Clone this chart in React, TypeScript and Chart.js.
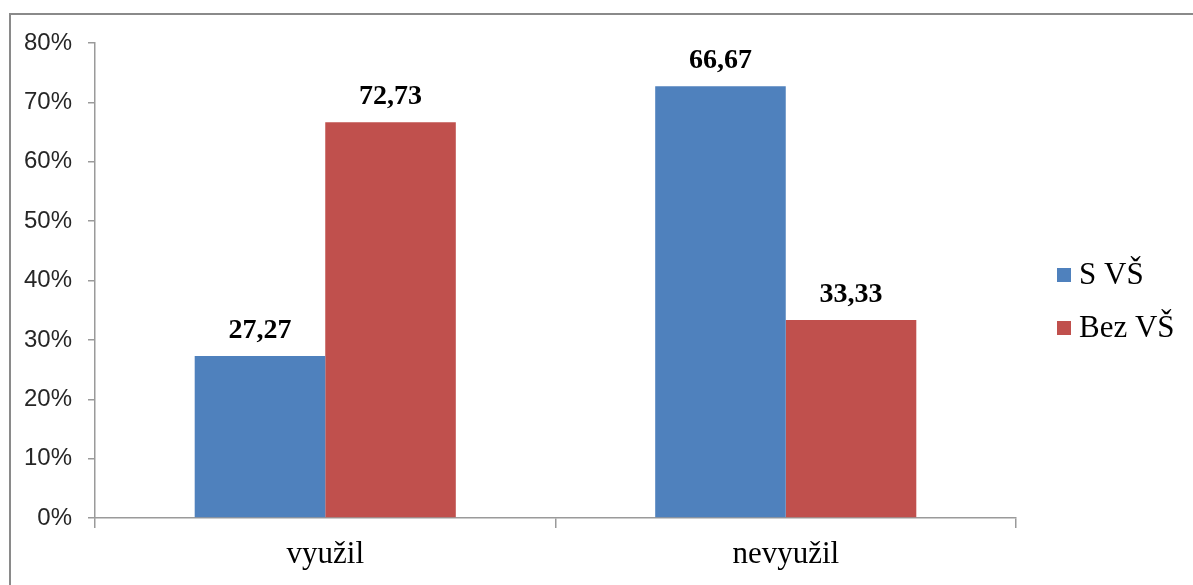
import React, { useEffect, useRef } from "react";
import { Chart, registerables } from "chart.js";

Chart.register(...registerables);

const categories = ["využil", "nevyužil"];
const seriesNames = ["S VŠ", "Bez VŠ"];
const sVsValues = [27.27, 72.73];
const bezVsValues = [66.67, 33.33];
const sVsLabels = ["27,27", "66,67"];
const bezVsLabels = ["72,73", "33,33"];
const seriesColors = ["#4F81BD", "#C0504D"];
const yMax = 80;
const yStep = 10;

const valueLabels = [sVsLabels, bezVsLabels];

const dataLabelPlugin = {
  id: "dataLabels",
  afterDatasetsDraw(chart: any) {
    const ctx = chart.ctx;
    ctx.save();
    ctx.font = "bold 28px 'Liberation Serif', 'Times New Roman', serif";
    ctx.fillStyle = "#000";
    ctx.textAlign = "center";
    ctx.textBaseline = "alphabetic";
    chart.data.datasets.forEach((ds: any, i: number) => {
      const meta = chart.getDatasetMeta(i);
      meta.data.forEach((bar: any, j: number) => {
        ctx.fillText(valueLabels[i][j], bar.x, bar.y - 18);
      });
    });
    ctx.restore();
  },
};

const legendPlugin = {
  id: "sideLegend",
  afterDraw(chart: any) {
    const ctx = chart.ctx;
    const area = chart.chartArea;
    ctx.save();
    ctx.font = "31px 'Liberation Serif', 'Times New Roman', serif";
    ctx.textAlign = "left";
    ctx.textBaseline = "middle";
    const x0 = area.right + 41;
    const yc = (area.top + area.bottom) / 2 + 21;
    chart.data.datasets.forEach((ds: any, i: number) => {
      const cy = yc + (i - 0.5) * 53;
      ctx.fillStyle = ds.backgroundColor;
      ctx.fillRect(x0, cy - 7, 14, 14);
      ctx.fillStyle = "#000";
      ctx.fillText(ds.label, x0 + 22, cy + 1);
    });
    ctx.restore();
  },
};

export default function App() {
  const canvasRef = useRef<HTMLCanvasElement | null>(null);

  useEffect(() => {
    if (!canvasRef.current) return;
    const chart = new Chart(canvasRef.current, {
      type: "bar",
      data: {
        labels: categories,
        datasets: [
          {
            label: seriesNames[0],
            data: sVsValues,
            backgroundColor: seriesColors[0],
            barPercentage: 1,
            categoryPercentage: 0.567,
          },
          {
            label: seriesNames[1],
            data: bezVsValues,
            backgroundColor: seriesColors[1],
            barPercentage: 1,
            categoryPercentage: 0.567,
          },
        ],
      },
      options: {
        animation: false,
        responsive: true,
        maintainAspectRatio: false,
        layout: { padding: { left: 0, top: 43, right: 177, bottom: 0 } },
        plugins: {
          legend: { display: false },
          tooltip: { enabled: false },
          title: { display: false },
        },
        scales: {
          x: {
            afterFit(scale: any) {
              scale.height = 67;
            },
            grid: {
              display: true,
              offset: true,
              drawOnChartArea: false,
              drawTicks: true,
              tickLength: 10,
              color: "#9a9a9a",
              lineWidth: 1.5,
            },
            border: { display: true, color: "#9a9a9a", width: 1.5 },
            ticks: {
              color: "#000",
              padding: 8,
              font: { family: "'Liberation Serif', 'Times New Roman', serif", size: 31 },
            },
          },
          y: {
            min: 0,
            max: yMax,
            afterFit(scale: any) {
              scale.width = 95;
            },
            grid: {
              display: true,
              drawOnChartArea: false,
              drawTicks: true,
              tickLength: 7,
              color: "#9a9a9a",
              lineWidth: 1.5,
            },
            border: { display: true, color: "#9a9a9a", width: 1.5 },
            ticks: {
              stepSize: yStep,
              padding: 16,
              color: "#262626",
              font: { family: "'Liberation Sans', Arial, sans-serif", size: 24 },
              callback: (v: any) => `${v}%`,
            },
          },
        },
      },
      plugins: [dataLabelPlugin, legendPlugin],
    });
    return () => chart.destroy();
  }, []);

  return (
    <div
      style={{
        position: "fixed",
        left: 0,
        top: 0,
        width: 1193,
        height: 585,
        overflow: "hidden",
        background: "#fff",
      }}
    >
      <div
        style={{
          position: "absolute",
          left: 9,
          top: 13,
          width: 1400,
          height: 800,
          borderTop: "2px solid #8a8a8a",
          borderLeft: "2px solid #8a8a8a",
        }}
      />
      <div style={{ position: "absolute", left: 0, top: 0, width: 1193, height: 585 }}>
        <canvas ref={canvasRef} />
      </div>
    </div>
  );
}
